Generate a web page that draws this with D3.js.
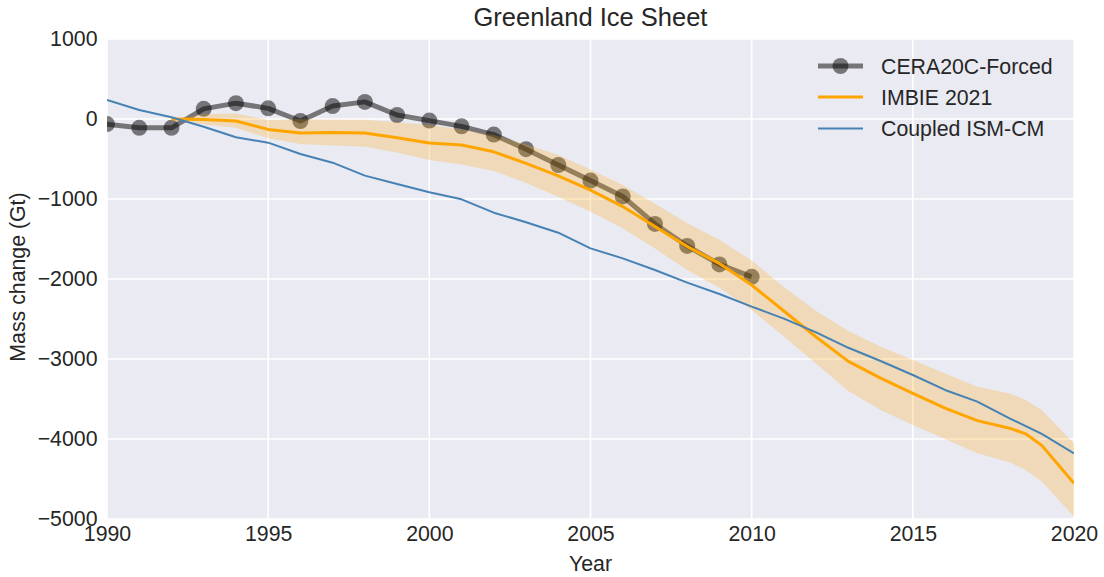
<!DOCTYPE html>
<html><head><meta charset="utf-8">
<script src="https://cdn.jsdelivr.net/npm/d3@7"></script>
<style>
html,body{margin:0;padding:0;background:#fff;}
text{font-family:"Liberation Sans",Arial,sans-serif;fill:#262626;}
</style></head>
<body><svg id="chart" width="1104" height="577"></svg>
<script>
// ---- data ----
const ceraYears = [1990,1991,1992,1993,1994,1995,1996,1997,1998,1999,2000,2001,2002,2003,2004,2005,2006,2007,2008,2009,2010];
const ceraValues = [-64,-110,-110,127,198,133,-25,162,214,50,-20,-92,-195,-377,-575,-770,-968,-1312,-1587,-1818,-1973];

const imbieYears = [1992,1993,1994,1995,1996,1997,1998,1999,2000,2001,2002,2003,2004,2005,2006,2007,2008,2009,2010,2011,2012,2013,2014,2015,2016,2017,2018,2018.5,2019,2020];
const imbieValues = [0,-5,-25,-130,-175,-168,-175,-235,-300,-325,-410,-555,-710,-890,-1095,-1345,-1595,-1805,-2075,-2400,-2725,-3030,-3240,-3430,-3615,-3770,-3865,-3935,-4080,-4555];
const imbieUpper = [0,60,70,-12,-4,-10,-10,-40,-75,-130,-200,-320,-450,-630,-825,-1060,-1304,-1510,-1770,-2100,-2400,-2650,-2846,-3012,-3180,-3346,-3430,-3512,-3640,-4054];
const imbieLower = [0,-70,-110,-241,-312,-330,-346,-420,-512,-570,-650,-800,-971,-1160,-1366,-1620,-1887,-2110,-2387,-2720,-3060,-3400,-3637,-3825,-4000,-4179,-4290,-4387,-4530,-4971];

const ismYears = [1990,1991,1992,1993,1994,1995,1996,1997,1998,1999,2000,2001,2002,2003,2004,2005,2006,2007,2008,2009,2010,2011,2012,2013,2014,2015,2016,2017,2018,2019,2020];
const ismValues = [237,112,21,-96,-229,-296,-437,-546,-708,-812,-916,-1004,-1171,-1291,-1421,-1617,-1742,-1887,-2046,-2187,-2345,-2495,-2668,-2860,-3025,-3200,-3387,-3533,-3741,-3937,-4179];

const xTicks = [1990,1995,2000,2005,2010,2015,2020];
const yTicks = [1000,0,-1000,-2000,-3000,-4000,-5000];
const seriesNames = ["CERA20C-Forced","IMBIE 2021","Coupled ISM-CM"];

// ---- layout ----
const svg = d3.select("#chart");
const L = 107, R = 1074, T = 39, B = 519;
const FS = 21.3;
const x = d3.scaleLinear().domain([1990,2020]).range([L,R]);
const y = d3.scaleLinear().domain([-5000,1000]).range([B,T]);

svg.append("rect").attr("x",L).attr("y",T).attr("width",R-L).attr("height",B-T).attr("fill","#EAEAF2");
svg.append("defs").append("clipPath").attr("id","clip")
  .append("rect").attr("x",L).attr("y",T).attr("width",R-L).attr("height",B-T);

// grid
const grid = svg.append("g");
grid.selectAll(".gx").data(xTicks).join("line")
  .attr("x1",d=>x(d)).attr("x2",d=>x(d)).attr("y1",T).attr("y2",B)
  .attr("stroke","#fff").attr("stroke-width",1.6);
grid.selectAll(".gy").data(yTicks).join("line")
  .attr("y1",d=>y(d)).attr("y2",d=>y(d)).attr("x1",L).attr("x2",R)
  .attr("stroke","#fff").attr("stroke-width",1.6);

// axes
const fmt = d => d < 0 ? "\u2212" + Math.abs(d) : String(d);
const xa = svg.append("g").attr("transform",`translate(0,${B})`)
  .call(d3.axisBottom(x).tickValues(xTicks).tickFormat(d3.format("d")).tickSize(0).tickPadding(7));
const ya = svg.append("g").attr("transform",`translate(${L},0)`)
  .call(d3.axisLeft(y).tickValues(yTicks).tickFormat(fmt).tickSize(0).tickPadding(9.5));
[xa,ya].forEach(a=>{
  a.select(".domain").remove();
  a.selectAll("text").attr("font-size",FS).attr("fill","#262626")
    .style("font-family","'Liberation Sans',Arial,sans-serif");
});

const plot = svg.append("g").attr("clip-path","url(#clip)");

// CERA
const ceraData = ceraYears.map((d,i)=>[d,ceraValues[i]]);
plot.append("path").datum(ceraData)
  .attr("d",d3.line().x(d=>x(d[0])).y(d=>y(d[1])))
  .attr("fill","none").attr("stroke","#000").attr("stroke-opacity",0.5).attr("stroke-width",5)
  .attr("stroke-linejoin","round");
plot.selectAll(".cera").data(ceraData).join("circle")
  .attr("cx",d=>x(d[0])).attr("cy",d=>y(d[1])).attr("r",8)
  .attr("fill","#000").attr("fill-opacity",0.5);

// IMBIE band + line
const imbieData = imbieYears.map((d,i)=>({x:d,v:imbieValues[i],hi:imbieUpper[i],lo:imbieLower[i]}));
plot.append("path").datum(imbieData)
  .attr("d",d3.area().x(d=>x(d.x)).y0(d=>y(d.lo)).y1(d=>y(d.hi)))
  .attr("fill","#FFA500").attr("fill-opacity",0.24);
plot.append("path").datum(imbieData)
  .attr("d",d3.line().x(d=>x(d.x)).y(d=>y(d.v)))
  .attr("fill","none").attr("stroke","#FFA500").attr("stroke-width",3).attr("stroke-linejoin","round");

// ISM
const ismData = ismYears.map((d,i)=>[d,ismValues[i]]);
plot.append("path").datum(ismData)
  .attr("d",d3.line().x(d=>x(d[0])).y(d=>y(d[1])))
  .attr("fill","none").attr("stroke","#4682B4").attr("stroke-width",2).attr("stroke-linejoin","round");

// titles
svg.append("text").attr("x",(L+R)/2).attr("y",26).attr("text-anchor","middle")
  .attr("font-size",25.5).text("Greenland Ice Sheet");
svg.append("text").attr("x",(L+R)/2).attr("y",571).attr("text-anchor","middle")
  .attr("font-size",FS).text("Year");
svg.append("text").attr("transform","translate(25,277) rotate(-90)").attr("text-anchor","middle")
  .attr("font-size",FS).text("Mass change (Gt)");

// legend
const lg = svg.append("g");
const ly = [66,97,128.5];
lg.append("line").attr("x1",818).attr("x2",863).attr("y1",ly[0]).attr("y2",ly[0])
  .attr("stroke","#000").attr("stroke-opacity",0.5).attr("stroke-width",5);
lg.append("circle").attr("cx",840.5).attr("cy",ly[0]).attr("r",8).attr("fill","#000").attr("fill-opacity",0.5);
lg.append("line").attr("x1",818).attr("x2",863).attr("y1",ly[1]).attr("y2",ly[1])
  .attr("stroke","#FFA500").attr("stroke-width",3);
lg.append("line").attr("x1",818).attr("x2",863).attr("y1",ly[2]).attr("y2",ly[2])
  .attr("stroke","#4682B4").attr("stroke-width",2);
lg.selectAll(".lt").data(seriesNames).join("text")
  .attr("x",881).attr("y",(d,i)=>ly[i]+7.5).attr("font-size",FS).text(d=>d);
</script></body></html>
